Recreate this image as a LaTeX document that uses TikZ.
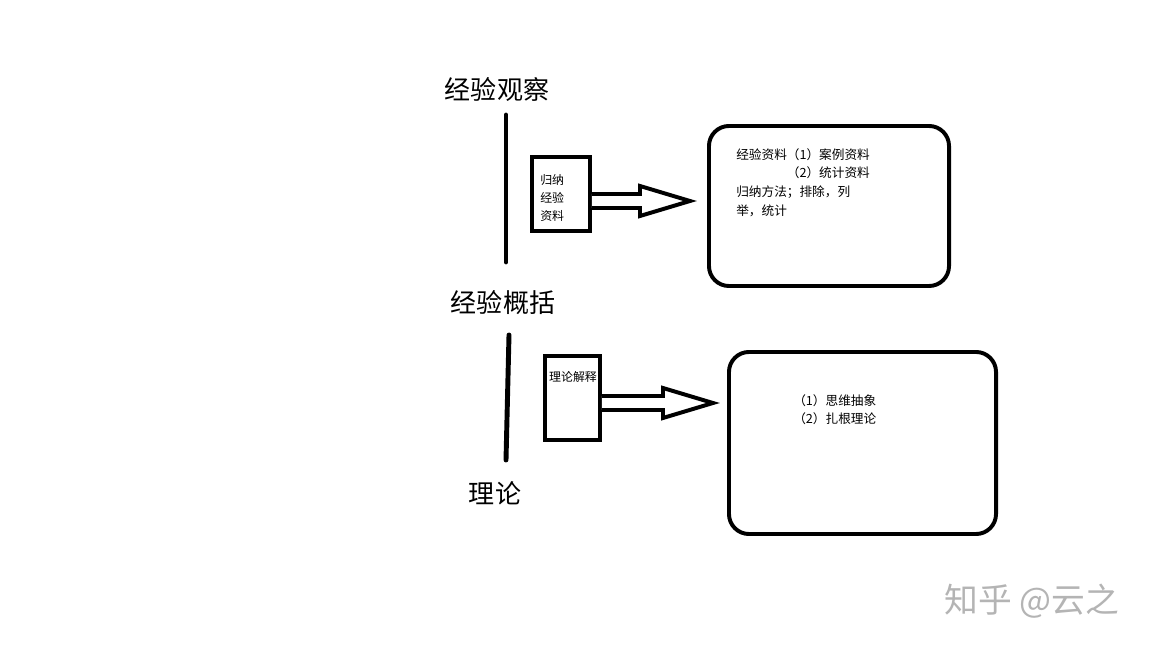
\documentclass[tikz,border=0pt]{standalone}
\usepackage{fontspec}
\usepackage{tikz}
\usetikzlibrary{positioning, calc}
\newfontfamily\cjk{Noto Sans CJK SC}
\definecolor{inkblack}{HTML}{000000}
\definecolor{markgray}{HTML}{B4B4B4}

% hollow block arrow: from a box side to a tip coordinate
\newcommand{\hollowarrow}[2]{%
  \draw[blockarrow] ($(#1 |- #2)+(0,-7)$) -- ($(#2)+(-50,-7)$) -- ($(#2)+(-50,-15)$)
    -- (#2) -- ($(#2)+(-50,15)$) -- ($(#2)+(-50,7)$) -- ($(#1 |- #2)+(0,7)$);}

\begin{document}
\begin{tikzpicture}[
  x=0.025cm, y=-0.025cm,
  every node/.style={font=\cjk, inner sep=0pt},
  stage/.style={font=\cjk\fontsize{18.5}{20}\selectfont},
  smallbox/.style={rectangle, draw=inkblack, line width=2.8pt},
  notebox/.style={rectangle, rounded corners=0.5cm, draw=inkblack, line width=2.8pt},
  note/.style={font=\cjk\fontsize{9}{13.3}\selectfont, align=left},
  tiny/.style={font=\cjk\fontsize{8.5}{12.8}\selectfont, align=left},
  bar/.style={line width=3.5pt, line cap=round, draw=inkblack},
  blockarrow/.style={line width=2.8pt, line join=miter, draw=inkblack, fill=white},
  watermark/.style={font=\cjk\fontsize{24}{26}\selectfont, text=markgray},
]
\useasboundingbox (0,0) rectangle (1152,648);

% Left column — stages
\node[stage] (obs)    at (497,90)  {经验观察};
\node[stage] (gen)    at (503,303) {经验概括};
\node[stage] (theory) at (495,493) {理论};

\coordinate (bar1top) at (506,115);
\coordinate (bar1bot) at (506,262);
\coordinate (bar2top) at (509,335);
\coordinate (bar2bot) at (506,460);
\draw[bar] (bar1top) -- (bar1bot);
\draw[bar] (bar2top) -- (bar2bot);

% Middle — small boxes
\node[smallbox, minimum width=1.45cm, minimum height=1.85cm] (induce) at (561,194) {};
\node[tiny, anchor=west] (inducetext) at (540,198) {归纳\\经验\\资料};

\node[smallbox, minimum width=1.375cm, minimum height=2.1cm] (explain) at (572.5,398) {};
\node[tiny] (explaintext) at (573,377) {理论解释};

% Right — notes
\node[notebox, minimum width=6cm, minimum height=4cm] (data) at (829,206) {};
\node[note, anchor=north west] (datatext) at (736,148)
  {经验资料（1）案例资料\\
   \phantom{经验资料}（2）统计资料\\
   归纳方法；排除，列\\
   举，统计};

\node[notebox, minimum width=6.675cm, minimum height=4.55cm] (method) at (862.5,443) {};
\node[note, anchor=north west] (methodtext) at (793,394)
  {（1）思维抽象\\（2）扎根理论};

% Arrows
\coordinate (tip1) at (690,201);
\coordinate (tip2) at (713,403);
\hollowarrow{induce.east}{tip1}
\hollowarrow{explain.east}{tip2}

% Watermark
\node[watermark] (mark) at (1032,601) {知乎 @云之};

\end{tikzpicture}
\end{document}
